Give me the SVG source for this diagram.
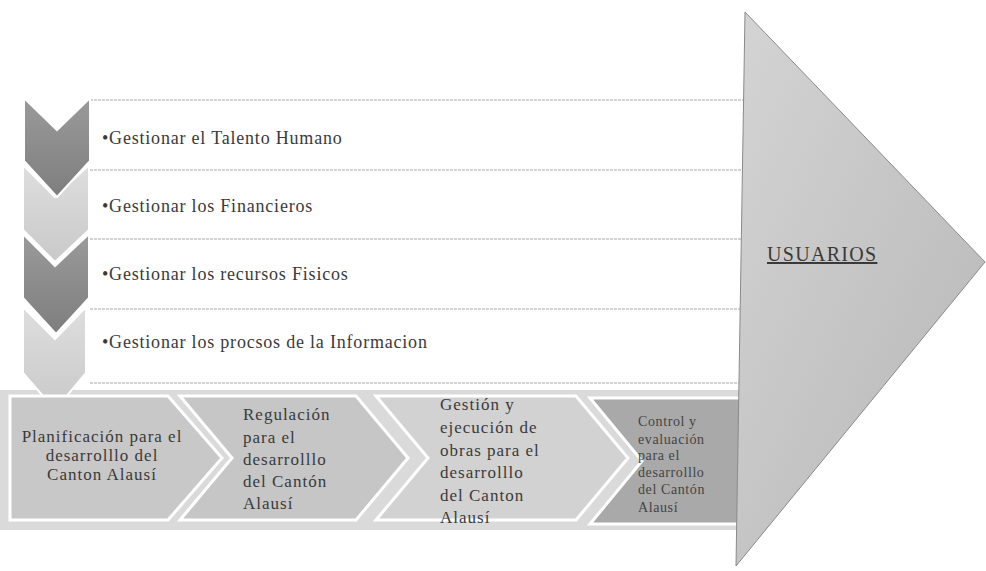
<svg xmlns="http://www.w3.org/2000/svg" width="986" height="571" viewBox="0 0 986 571">
<style>
.row{fill:#ffffff;stroke:none}
.rl{stroke:#a8a8a8;stroke-width:1.2;stroke-dasharray:3 1}
.rt{font-family:"Liberation Serif",serif;font-size:18px;letter-spacing:0.8px;fill:#3a3a3a}
.bt{font-family:"Liberation Serif",serif;font-size:17px;letter-spacing:1px;fill:#3a3a3a}
.bt4{font-family:"Liberation Serif",serif;font-size:14px;letter-spacing:0.6px;fill:#444}
.chd{fill:url(#gd);stroke:#ffffff;stroke-width:2}
.chl{fill:url(#gl);stroke:#ffffff;stroke-width:2}
.box{stroke:#ffffff;stroke-width:3}
</style>
<defs>
<linearGradient id="gd" x1="0" y1="0" x2="0" y2="1"><stop offset="0" stop-color="#9a9a9a"/><stop offset="1" stop-color="#7e7e7e"/></linearGradient>
<linearGradient id="gl" x1="0" y1="0" x2="0" y2="1"><stop offset="0" stop-color="#dedede"/><stop offset="1" stop-color="#c9c9c9"/></linearGradient>
<linearGradient id="ga" x1="0" y1="0" x2="1" y2="1"><stop offset="0" stop-color="#d4d4d4"/><stop offset="1" stop-color="#b6b6b6"/></linearGradient>
</defs>
<rect width="986" height="571" fill="#ffffff"/>

<g id="band">
<rect x="0" y="390" width="746" height="140" fill="#dadada"/>
</g>

<g id="rows">
<rect class="row" x="90" y="100" width="656" height="283"/>
<line class="rl" x1="90" y1="100" x2="746" y2="100"/>
<line class="rl" x1="90" y1="170" x2="746" y2="170"/>
<line class="rl" x1="90" y1="239" x2="746" y2="239"/>
<line class="rl" x1="90" y1="309" x2="746" y2="309"/>
<line class="rl" x1="90" y1="383" x2="746" y2="383"/>
</g>

<g id="item1"><text class="rt" x="102" y="144">•Gestionar el Talento Humano</text></g>
<g id="item2"><text class="rt" x="102" y="212">•Gestionar los Financieros</text></g>
<g id="item3"><text class="rt" x="102" y="280">•Gestionar los recursos Fisicos</text></g>
<g id="item4"><text class="rt" x="102" y="348">•Gestionar los procsos de la Informacion</text></g>

<g id="chevrons">
<polygon class="chl" points="23,307 55,339 86,307 86,373 55,410 23,373"/>
<polygon class="chd" points="23,234 55,266 89,234 89,298 56,334 23,298"/>
<polygon class="chl" points="23,165 55,197 89,165 89,230 55,262 23,230"/>
<polygon class="chd" points="24,98 57,130 90,98 90,161 57,197 24,161"/>
</g>

<g id="step1">
<polygon class="box" fill="#c8c8c8" points="10,396 168,396 222,458 168,520 10,520"/>
<text class="bt" text-anchor="middle" x="102" y="442">Planificación para el</text>
<text class="bt" text-anchor="middle" x="102" y="461">desarrolllo del</text>
<text class="bt" text-anchor="middle" x="102" y="480">Canton Alausí</text>
</g>
<g id="step2">
<polygon class="box" fill="#c6c6c6" points="180,396 356,396 408,458 356,520 180,520 232,458"/>
<text class="bt" x="243" y="420">Regulación</text>
<text class="bt" x="243" y="443">para el</text>
<text class="bt" x="243" y="465">desarrolllo</text>
<text class="bt" x="243" y="487">del Cantón</text>
<text class="bt" x="243" y="509">Alausí</text>
</g>
<g id="step3">
<polygon class="box" fill="#d2d2d2" points="376,396 576,396 628,458 576,520 376,520 428,458"/>
<text class="bt" x="440" y="410">Gestión y</text>
<text class="bt" x="440" y="433">ejecución de</text>
<text class="bt" x="440" y="456">obras para el</text>
<text class="bt" x="440" y="478">desarrolllo</text>
<text class="bt" x="440" y="501">del Canton</text>
<text class="bt" x="440" y="523">Alausí</text>
</g>
<g id="step4">
<polygon class="box" fill="#a9a9a9" points="590,398 746,398 746,524 590,524 642,461"/>
<text class="bt4" x="638" y="426">Control y</text>
<text class="bt4" x="638" y="444">evaluación</text>
<text class="bt4" x="638" y="460">para el</text>
<text class="bt4" x="638" y="477">desarrolllo</text>
<text class="bt4" x="638" y="494">del Cantón</text>
<text class="bt4" x="638" y="512">Alausí</text>
</g>

<g id="usuarios">
<polygon fill="url(#ga)" stroke="#8a8a8a" stroke-width="1" points="745,12 985,262 736,566"/>
<text x="767" y="261" font-family="Liberation Serif,serif" font-size="20" letter-spacing="1.3" fill="#3a3a3a" text-decoration="underline">USUARIOS</text>
</g>
</svg>
